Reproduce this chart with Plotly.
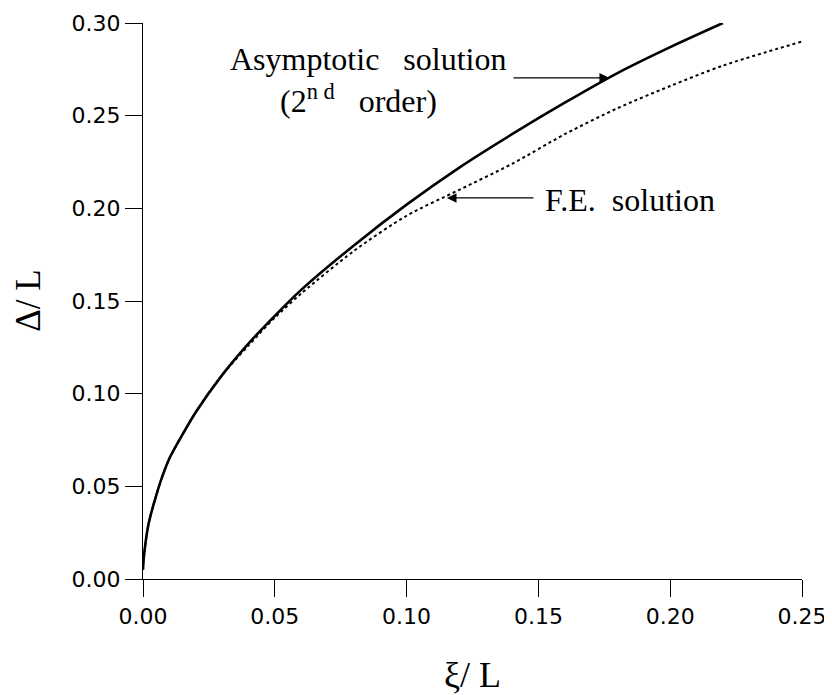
import plotly.graph_objects as go

# Asymptotic solution (2nd order) - solid curve
asym_x = [0.0, 0.0002, 0.0005, 0.001, 0.002, 0.003, 0.005, 0.007, 0.01, 0.015, 0.02, 0.03,
          0.04, 0.05, 0.06, 0.08, 0.10, 0.12, 0.14, 0.16, 0.18, 0.20, 0.22]
asym_y = [0.005, 0.010, 0.014, 0.020, 0.029, 0.035, 0.045, 0.054, 0.065, 0.078, 0.090, 0.110,
          0.127, 0.142, 0.156, 0.180, 0.202, 0.222, 0.240, 0.257, 0.273, 0.287, 0.300]

# F.E. solution - dotted curve
fe_x = [0.0, 0.0002, 0.0005, 0.001, 0.002, 0.003, 0.005, 0.007, 0.01, 0.015, 0.02, 0.03,
        0.04, 0.05, 0.06, 0.08, 0.10, 0.12, 0.14, 0.16, 0.18, 0.20, 0.22, 0.25]
fe_y = [0.005, 0.010, 0.014, 0.020, 0.029, 0.035, 0.045, 0.054, 0.065, 0.078, 0.090, 0.110,
        0.126, 0.141, 0.154, 0.177, 0.196, 0.210, 0.224, 0.240, 0.254, 0.266, 0.277, 0.290]

x_ticks = [0.00, 0.05, 0.10, 0.15, 0.20, 0.25]
y_ticks = [0.00, 0.05, 0.10, 0.15, 0.20, 0.25, 0.30]

fig = go.Figure()
fig.add_trace(go.Scatter(x=asym_x, y=asym_y, mode="lines",
                         line=dict(color="black", width=2.6, shape="spline", smoothing=0.8),
                         name="Asymptotic solution"))
fig.add_trace(go.Scatter(x=fe_x, y=fe_y, mode="lines",
                         line=dict(color="black", width=2, dash="3px,3px", shape="spline",
                                   smoothing=0.8),
                         name="F.E. solution"))

serif = "Liberation Serif, Times New Roman, serif"
sans = "DejaVu Sans, Arial, sans-serif"

axis_common = dict(showgrid=False, zeroline=False, showline=True, linecolor="black",
                   linewidth=1.2, ticks="outside", ticklen=17, tickwidth=1.2,
                   tickcolor="black", tickfont=dict(family=sans, size=22, color="black"),
                   automargin=False)

fig.update_xaxes(range=[0, 0.25], tickvals=x_ticks, ticktext=[f"{v:.2f}" for v in x_ticks],
                 **axis_common)
fig.update_yaxes(range=[0, 0.30], tickvals=y_ticks, ticktext=[f"{v:.2f}" for v in y_ticks],
                 **axis_common)

# The page body has an 8px margin, so the figure is sized to the visible area
fig.update_layout(
    width=824, height=687,
    margin=dict(l=135, r=30, t=15, b=116),
    plot_bgcolor="white", paper_bgcolor="white",
    showlegend=False,
)

# Axis titles as annotations
fig.add_annotation(text="ξ/ L", xref="paper", yref="paper", x=0.5, y=-0.172,
                   xanchor="center", yanchor="middle", showarrow=False,
                   font=dict(family=serif, size=36, color="black"))
fig.add_annotation(text="Δ/ L", xref="paper", yref="paper", x=-0.175, y=0.5,
                   xanchor="center", yanchor="middle", showarrow=False, textangle=-90,
                   font=dict(family=serif, size=35, color="black"))

# Labels
fig.add_annotation(text="Asymptotic\u00a0\u00a0\u00a0solution", x=0.0853, y=0.2806,
                   xref="x", yref="y", showarrow=False, xanchor="center", yanchor="middle",
                   font=dict(family=serif, size=32, color="black"))
fig.add_annotation(text="(2<sup>n d</sup>\u00a0\u00a0\u00a0order)", x=0.0818, y=0.259,
                   xref="x", yref="y", showarrow=False, xanchor="center", yanchor="middle",
                   font=dict(family=serif, size=32, color="black"))
fig.add_annotation(text="F.E.\u00a0\u00a0solution", x=0.1847, y=0.2045,
                   xref="x", yref="y", showarrow=False, xanchor="center", yanchor="middle",
                   font=dict(family=serif, size=32, color="black"))

# Arrows
fig.add_annotation(x=0.1768, y=0.2704, ax=0.140, ay=0.2704, xref="x", yref="y",
                   axref="x", ayref="y", text="", showarrow=True, arrowhead=2,
                   arrowsize=1.6, arrowwidth=1.2, arrowcolor="black")
fig.add_annotation(x=0.1153, y=0.2056, ax=0.1487, ay=0.2056, xref="x", yref="y",
                   axref="x", ayref="y", text="", showarrow=True, arrowhead=2,
                   arrowsize=1.6, arrowwidth=1.2, arrowcolor="black")

fig.write_html("out.html")
